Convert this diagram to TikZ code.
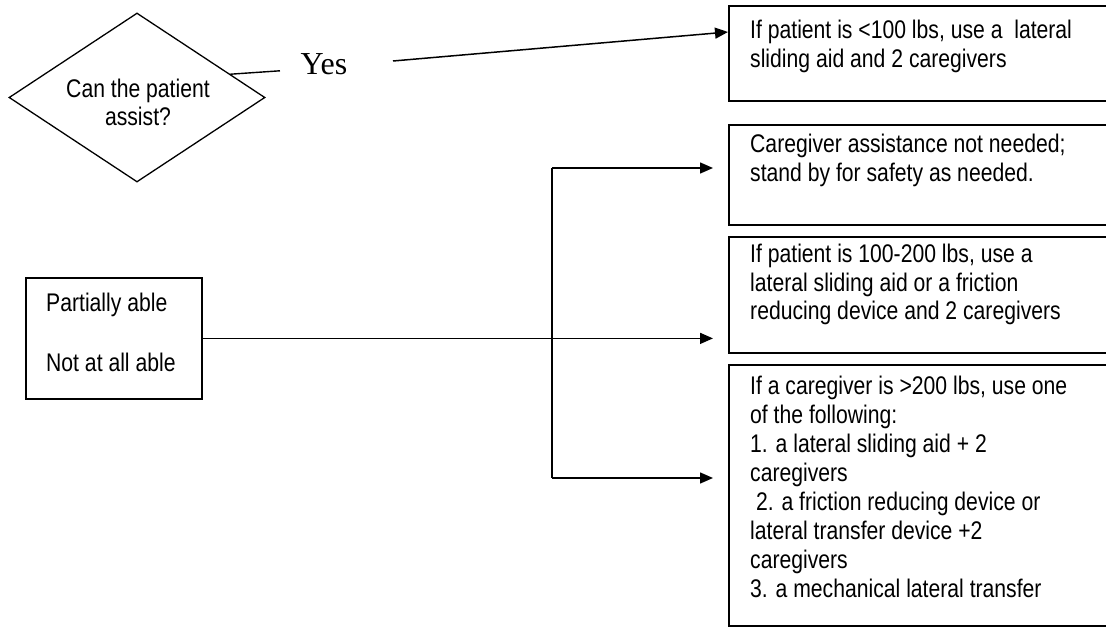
\documentclass[tikz,border=0pt]{standalone}
\usepackage{fontspec}
\setmainfont{Liberation Sans}[FakeStretch=0.83]
\newfontfamily\yesfont{Liberation Serif}
\usetikzlibrary{shapes.geometric,arrows.meta}
\begin{document}
\begin{tikzpicture}[x=1pt,y=-1pt,
  panel/.style={draw, line width=1.8pt, rectangle, inner sep=0pt, anchor=north west},
  % multi-line texts are placed by the baseline of their last line
  boxtext/.style={anchor=base west, align=left, inner sep=0pt,
    font=\fontsize{25.5}{29}\selectfont},
  plain/.style={line width=1.4pt},
  link/.style={line width=1.5pt, -{Triangle[length=13pt,width=11pt]}},
]
\useasboundingbox (0,0) rectangle (1106,628);
\clip (0,0) rectangle (1106,628);

% decision
\node[draw, diamond, line width=1.3pt, minimum width=256pt, minimum height=169pt,
  inner sep=0pt] (q) at (137,97.5) {};
\node[align=center, anchor=base, inner sep=0pt,
  font=\fontsize{25.5}{28}\selectfont] (qt) at (138,126) {Can the patient\\assist?};
\node[anchor=base, inner sep=0pt, font=\yesfont\fontsize{32}{32}\selectfont]
  (yes) at (324,75) {Yes};

% left box
\node[draw, line width=1.8pt, anchor=north west, minimum width=176pt,
  minimum height=121pt, inner sep=0pt] (p) at (25,277) {};
\node[boxtext] (pt) at (46,371) {Partially able\\[31pt]Not at all able};

% outcome boxes
\node[panel, minimum width=384pt, minimum height=95pt]  (b1) at (728,5) {};
\node[panel, minimum width=384pt, minimum height=100pt] (b2) at (728,124) {};
\node[panel, minimum width=384pt, minimum height=116pt] (b3) at (728,236) {};
\node[panel, minimum width=384pt, minimum height=261pt] (b4) at (728,364) {};

\node[boxtext] (t1) at (750,68)
  {If patient is <100 lbs, use a\ \ lateral\\sliding aid and 2 caregivers};
\node[boxtext] (t2) at (750,182)
  {Caregiver assistance not needed;\\stand by for safety as needed.};
\node[boxtext] (t3) at (750,320)
  {If patient is 100-200 lbs, use a\\lateral sliding aid or a friction\\reducing device and 2 caregivers};
\node[boxtext] (t4) at (750,597)
  {If a caregiver is >200 lbs, use one\\of the following:\\1. a lateral sliding aid + 2\\caregivers\\\ 2. a friction reducing device or\\lateral transfer device +2\\caregivers\\3. a mechanical lateral transfer};

% connectors
\coordinate (yesL) at (280,70.8);
\coordinate (yesR) at (393,61);
\draw[plain] (q.14) -- (yesL);
\draw[link] (yesR) -- ([yshift=-27pt]b1.north west);

\coordinate (vtop) at (552,168);
\coordinate (vbot) at (552,478);
\draw[link, shorten >=15pt] (p.east) -- (p.east -| b3.west);
\draw[link, shorten >=15pt] (vtop) -- (vtop -| b2.west);
\draw[link, shorten >=15pt] (vbot) -- (vbot -| b4.west);
\draw[line width=1.5pt] (vtop) -- (vbot);
\end{tikzpicture}
\end{document}
